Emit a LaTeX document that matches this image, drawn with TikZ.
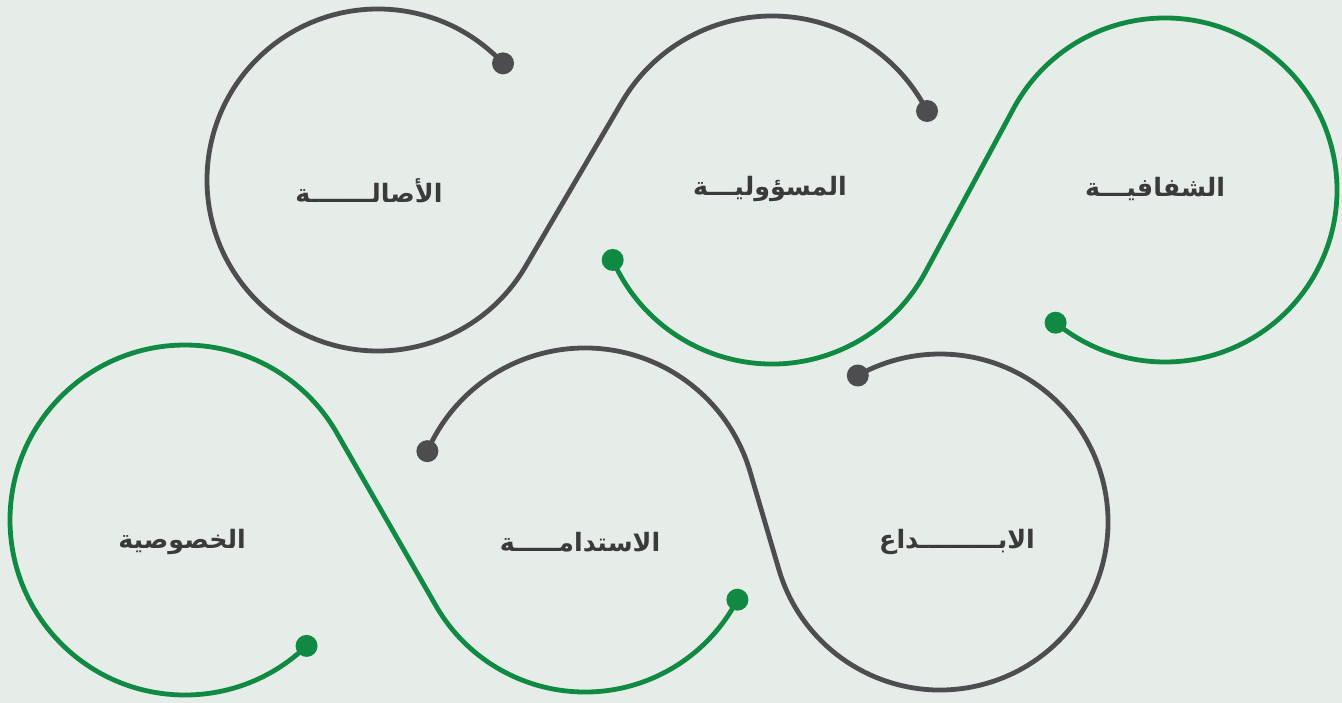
\documentclass[tikz,border=0pt]{standalone}
\usepackage{fontspec}
\newfontfamily\arabicfont[Script=Arabic]{DejaVu Sans}
\TeXXeTstate=1
\definecolor{bg}{RGB}{230,236,231}
\definecolor{lgray}{RGB}{77,77,79}
\definecolor{lgreen}{RGB}{16,138,67}
\definecolor{txt}{RGB}{58,58,58}
\begin{document}
\begin{tikzpicture}[x=0.75pt,y=-0.75pt,
  loop/.style={line width=3.6pt},
  lbl/.style={font=\arabicfont\bfseries\fontsize{19}{23}\selectfont, text=txt}]
\fill[bg] (0,0) rectangle (1342,703);
\useasboundingbox (0,0) rectangle (1342,703);
% circle centres
\coordinate (A) at (378,180);
\coordinate (B) at (772,190);
\coordinate (C) at (1165,190);
\coordinate (D) at (185,520);
\coordinate (E) at (585,520);
\coordinate (F) at (940,522);
% top gray
\draw[loop,lgray] ([shift={(-43:171)}]A) coordinate (g1s)
  arc[start angle=-43, end angle=-329.65, radius=171]
  -- ([shift={(210.35:174)}]B)
  arc[start angle=210.35, end angle=333, radius=174] coordinate (g1e);
\fill[lgray] (g1s) circle[radius=11] (g1e) circle[radius=11];
% top green
\draw[loop,lgreen] ([shift={(156.3:174)}]B) coordinate (v1s)
  arc[start angle=156.3, end angle=28.3, radius=174]
  -- ([shift={(208.3:172)}]C)
  arc[start angle=208.3, end angle=489.5, radius=172] coordinate (v1e);
\fill[lgreen] (v1s) circle[radius=11] (v1e) circle[radius=11];
% bottom green
\draw[loop,lgreen] ([shift={(46:175)}]D) coordinate (v2s)
  arc[start angle=46, end angle=330.2, radius=175]
  -- ([shift={(150.2:172)}]E)
  arc[start angle=150.2, end angle=27.6, radius=172] coordinate (v2e);
\fill[lgreen] (v2s) circle[radius=11] (v2e) circle[radius=11];
% bottom gray
\draw[loop,lgray] ([shift={(203.6:172)}]E) coordinate (g2s)
  arc[start angle=203.6, end angle=343.6, radius=172]
  -- ([shift={(163.6:168)}]F)
  arc[start angle=163.6, end angle=-119.3, radius=168] coordinate (g2e);
\fill[lgray] (g2s) circle[radius=11] (g2e) circle[radius=11];
% labels
\node[lbl] (t1) at (369,191) {\beginR الأصالـــــــة\endR};
\node[lbl] (t2) at (770,189) {\beginR المسؤوليـــة\endR};
\node[lbl] (t3) at (1155,189) {\beginR الشفافيـــة\endR};
\node[lbl] (t4) at (182,542) {\beginR الخصوصية\endR};
\node[lbl] (t5) at (580,542) {\beginR الاستدامـــــة\endR};
\node[lbl] (t6) at (957,542) {\beginR الابـــــــــداع\endR};
\end{tikzpicture}
\end{document}
